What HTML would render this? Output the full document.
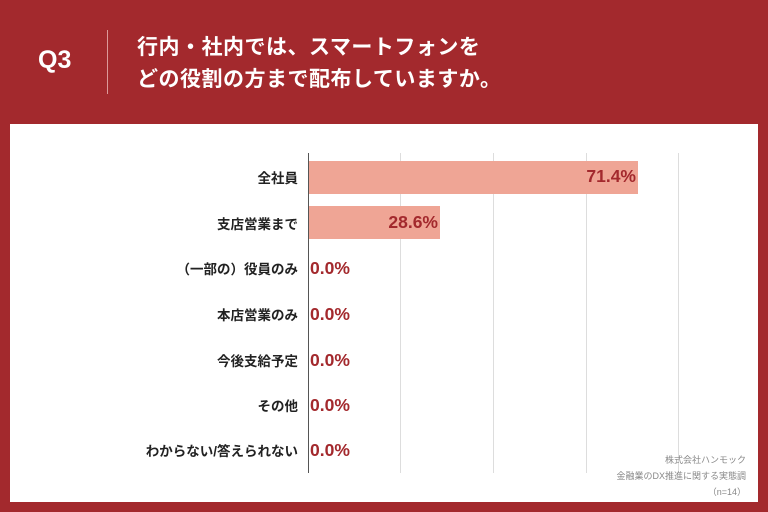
<!DOCTYPE html>
<html><head><meta charset="utf-8"><style>
body{margin:0;width:768px;height:512px;background:#a3292d;position:relative;overflow:hidden;font-family:"Liberation Sans","Noto Sans CJK JP",sans-serif}
.q{position:absolute;left:38px;top:46px;color:#fff;font-size:25px;font-weight:bold}
.sep{position:absolute;left:107px;top:30px;width:1px;height:64px;background:#d99}
.t{position:absolute;left:137px;top:32px;color:#fff;font-size:21px;font-weight:bold;line-height:32px;letter-spacing:0.5px}
.panel{position:absolute;left:10px;top:124px;width:748px;height:378px;background:#fff}
.g{position:absolute;top:153px;height:320px;width:1px;background:#ddd}
.ax{position:absolute;left:308px;top:153px;height:320px;width:1px;background:#555}
.bar{position:absolute;left:309px;height:33px;background:#efa595}
.lab{position:absolute;right:470px;font-size:13.5px;font-weight:bold;color:#222;white-space:nowrap}
.v{position:absolute;font-size:17.5px;font-weight:bold;color:#a3292d}
.n{position:absolute;right:22px;font-size:9px;color:#888;text-align:right;line-height:16px;top:452px}
</style></head><body>
<div class="q">Q3</div><div class="sep"></div>
<div class="t">行内・社内では、スマートフォンを<br>どの役割の方まで配布していますか。</div>
<div class="panel"></div>
<div class="g" style="left:400px"></div><div class="g" style="left:493px"></div><div class="g" style="left:586px"></div><div class="g" style="left:678px"></div>
<div class="bar" style="top:161px;width:329px"></div>
<div class="bar" style="top:206px;width:131px"></div>
<div class="ax"></div>
<div class="lab" style="top:167px">全社員</div>
<div class="lab" style="top:213px">支店営業まで</div>
<div class="lab" style="top:258px">（一部の）役員のみ</div>
<div class="lab" style="top:304px">本店営業のみ</div>
<div class="lab" style="top:350px">今後支給予定</div>
<div class="lab" style="top:395px">その他</div>
<div class="lab" style="top:440px">わからない/答えられない</div>
<div class="v" style="top:166px;right:132px">71.4%</div>
<div class="v" style="top:212px;right:330px">28.6%</div>
<div class="v" style="top:258px;left:310px">0.0%</div>
<div class="v" style="top:304px;left:310px">0.0%</div>
<div class="v" style="top:350px;left:310px">0.0%</div>
<div class="v" style="top:395px;left:310px">0.0%</div>
<div class="v" style="top:440px;left:310px">0.0%</div>
<div class="n">株式会社ハンモック<br>金融業のDX推進に関する実態調<br>（n=14）</div>
</body></html>
